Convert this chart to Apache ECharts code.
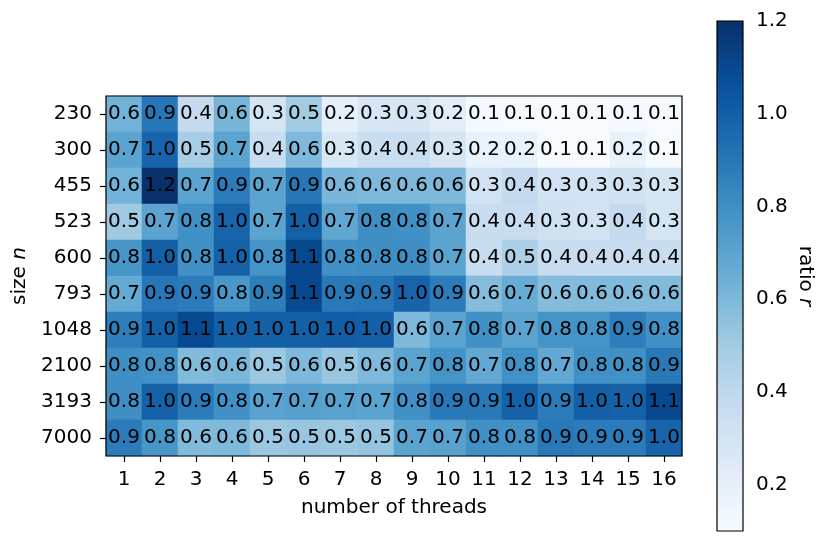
<!DOCTYPE html>
<html>
<head>
<meta charset="utf-8">
<script src="https://cdn.jsdelivr.net/npm/echarts@6/dist/echarts.min.js"></script>
<style>
html,body{margin:0;padding:0;background:#fff;}
#chart{width:830px;height:553px;}
</style>
</head>
<body>
<div id="chart"></div>
<script>
// Data
const threads = ['1','2','3','4','5','6','7','8','9','10','11','12','13','14','15','16'];
const sizes = ['230','300','455','523','600','793','1048','2100','3193','7000'];
const row230  = [0.63,0.90,0.38,0.62,0.30,0.50,0.20,0.28,0.29,0.22,0.12,0.11,0.10,0.11,0.12,0.11];
const row300  = [0.70,0.98,0.48,0.70,0.36,0.60,0.27,0.36,0.36,0.29,0.18,0.18,0.11,0.10,0.18,0.11];
const row455  = [0.63,1.20,0.70,0.88,0.70,0.90,0.61,0.60,0.60,0.60,0.31,0.38,0.31,0.31,0.32,0.30];
const row523  = [0.51,0.70,0.79,0.98,0.70,1.00,0.69,0.80,0.79,0.70,0.36,0.37,0.32,0.31,0.38,0.30];
const row600  = [0.77,1.00,0.79,0.99,0.78,1.10,0.79,0.80,0.80,0.70,0.37,0.46,0.37,0.37,0.37,0.36];
const row793  = [0.67,0.90,0.88,0.76,0.87,1.10,0.89,0.90,0.98,0.88,0.58,0.66,0.58,0.59,0.59,0.59];
const row1048 = [0.87,1.00,1.09,1.00,1.00,1.00,1.01,1.00,0.60,0.70,0.79,0.70,0.78,0.78,0.87,0.79];
const row2100 = [0.80,0.79,0.59,0.61,0.52,0.60,0.53,0.60,0.70,0.78,0.68,0.79,0.68,0.79,0.79,0.89];
const row3193 = [0.80,0.99,0.88,0.79,0.71,0.72,0.71,0.70,0.79,0.89,0.89,0.99,0.88,1.00,0.99,1.10];
const row7000 = [0.88,0.77,0.59,0.60,0.52,0.53,0.52,0.54,0.70,0.71,0.79,0.79,0.89,0.88,0.88,0.98];
const rows = [row230,row300,row455,row523,row600,row793,row1048,row2100,row3193,row7000];
const colorbarTicks = [0.2,0.4,0.6,0.8,1.0,1.2];
const vmin = 0.1, vmax = 1.2;

const blues = ['#f7fbff','#deebf7','#c6dbef','#9ecae1','#6baed6','#4292c6','#2171b5','#08519c','#08306b'];

const data = [];
rows.forEach((r, yi) => r.forEach((v, xi) => data.push([xi, yi, v])));

const FONT = 'DejaVu Sans';
const FS = 20;

const chart = echarts.init(document.getElementById('chart'), null, {renderer: 'canvas'});

const CB = {left: 717, top: 21, width: 26, height: 510};

const option = {
  backgroundColor: '#fff',
  animation: false,
  textStyle: {fontFamily: FONT},
  grid: [
    {left: 106, top: 96, width: 576, height: 360, show: true, borderColor: '#000', borderWidth: 1.2, backgroundColor: 'transparent', z: 5},
    {left: CB.left, top: CB.top, width: CB.width, height: CB.height, show: true, borderColor: '#000', borderWidth: 1.2, backgroundColor: 'transparent', z: 5}
  ],
  xAxis: [
    {
      type: 'category', data: threads, gridIndex: 0,
      axisLine: {show: false},
      axisTick: {show: true, alignWithLabel: true, length: 6, lineStyle: {color: '#000', width: 1.2}},
      axisLabel: {color: '#000', fontSize: FS, fontFamily: FONT, margin: 14},
      splitLine: {show: false},
      name: 'number of threads', nameLocation: 'middle', nameGap: 42,
      nameTextStyle: {color: '#000', fontSize: FS, fontFamily: FONT}
    },
    {type: 'value', gridIndex: 1, show: false, min: 0, max: 1}
  ],
  yAxis: [
    {
      type: 'category', data: sizes, inverse: true, gridIndex: 0,
      axisLine: {show: false},
      axisTick: {show: true, alignWithLabel: true, length: 6, lineStyle: {color: '#000', width: 1.2}},
      axisLabel: {color: '#000', fontSize: FS, fontFamily: FONT, margin: 14},
      splitLine: {show: false},
      name: '{a|size }{b|n}', nameLocation: 'middle', nameGap: 70, nameRotate: 90,
      nameTextStyle: {
        color: '#000', fontSize: FS, fontFamily: FONT,
        rich: {a: {fontSize: FS, fontFamily: FONT, color: '#000'}, b: {fontSize: FS, fontFamily: FONT, fontStyle: 'italic', color: '#000'}}
      }
    },
    {
      type: 'value', gridIndex: 1, position: 'right', min: vmin, max: vmax,
      axisLine: {show: false},
      axisTick: {show: true, length: 6, customValues: colorbarTicks, lineStyle: {color: '#000', width: 1.2}},
      axisLabel: {color: '#000', fontSize: FS, fontFamily: FONT, margin: 13, customValues: colorbarTicks,
        formatter: v => v.toFixed(1)},
      splitLine: {show: false},
      name: '{a|ratio }{b|r}', nameLocation: 'middle', nameGap: 52, nameRotate: -90,
      nameTextStyle: {
        color: '#000', fontSize: FS, fontFamily: FONT,
        rich: {a: {fontSize: FS, fontFamily: FONT, color: '#000'}, b: {fontSize: FS, fontFamily: FONT, fontStyle: 'italic', color: '#000'}}
      }
    }
  ],
  visualMap: {
    show: false, type: 'continuous', min: vmin, max: vmax, seriesIndex: 0,
    inRange: {color: blues}
  },
  graphic: [{
    type: 'rect', z: 1,
    shape: {x: CB.left, y: CB.top, width: CB.width, height: CB.height},
    style: {
      fill: new echarts.graphic.LinearGradient(0, 1, 0, 0,
        blues.map((c, i) => ({offset: i / (blues.length - 1), color: c})))
    }
  }],
  series: [{
    type: 'heatmap', xAxisIndex: 0, yAxisIndex: 0, data: data,
    itemStyle: {borderWidth: 0},
    label: {show: true, color: '#000', fontSize: FS, fontFamily: FONT,
      formatter: p => p.value[2].toFixed(1)},
    emphasis: {disabled: true}
  }]
};
chart.setOption(option);
</script>
</body>
</html>
